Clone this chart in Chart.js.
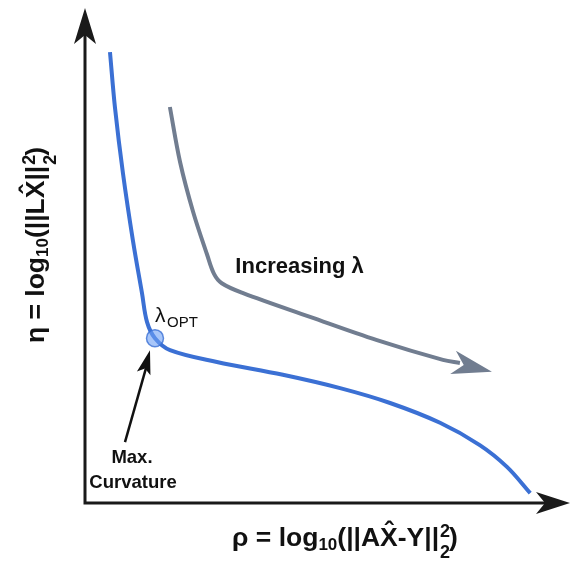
<!DOCTYPE html>
<html>
<head>
<meta charset="utf-8">
<script src="https://cdn.jsdelivr.net/npm/chart.js@4.4.1/dist/chart.umd.min.js"></script>
<style>
  html, body { margin: 0; padding: 0; background: #fff; overflow: hidden; }
  #wrap { width: 572px; height: 565px; position: relative; }
  #lcurve { display: block; }
</style>
</head>
<body>
<div id="wrap"><canvas id="lcurve"></canvas></div>
<script>
// L-curve (axes are unitless, 0..100)
const blueRho = [5.15, 6.19, 7.84, 9.90, 11.75, 12.78, 14.43, 17.53, 27.2, 40.8, 52.6, 62.9, 73.2, 81.4, 87.0, 91.8];
const blueEta = [91.1, 79.8, 66.5, 52.9, 42.4, 36.6, 33.3, 30.9, 28.5, 25.9, 23.2, 20.2, 16.2, 11.7, 7.3, 2.0];

// "increasing lambda" arrow path, tip kept apart
const grayRho = [17.5, 19.6, 22.3, 25.2, 26.6, 28.2, 32.6, 46.4, 60.2, 73.8, 77.3];
const grayEta = [80.0, 68.9, 58.8, 50.1, 46.3, 44.4, 42.4, 37.6, 32.9, 28.9, 28.3];
const grayTip = [83.9, 26.5];

// point of max curvature
const optRho = [14.43];
const optEta = [33.3];

const increasingAt = [31.0, 46];

const BLUE = '#3b70d4';
const GRAY = '#717d90';
const FONT = '"Liberation Sans", Arial, sans-serif';

const toXY = (xs, ys) => xs.map((x, i) => ({ x: x, y: ys[i] }));

function arrowHead(ctx, x0, y0, x1, y1, len, half, notch, color) {
  const a = Math.atan2(y1 - y0, x1 - x0);
  ctx.save();
  ctx.translate(x1, y1);
  ctx.rotate(a);
  ctx.beginPath();
  ctx.moveTo(0, 0);
  ctx.lineTo(-len, -half);
  ctx.lineTo(-len + notch, 0);
  ctx.lineTo(-len, half);
  ctx.closePath();
  ctx.fillStyle = color;
  ctx.fill();
  ctx.restore();
}

function setF(ctx, p) {
  ctx.font = (p.w || 'bold') + ' ' + p.s + 'px ' + FONT;
}
function partW(ctx, p) {
  setF(ctx, p);
  if (p.stack) return Math.max(ctx.measureText(p.stack[0]).width, ctx.measureText(p.stack[1]).width);
  return ctx.measureText(p.t).width;
}
// centered at cx, baseline at base
function drawRich(ctx, parts, cx, base) {
  const total = parts.reduce((a, p) => a + partW(ctx, p), 0);
  let x = cx - total / 2;
  ctx.textBaseline = 'alphabetic';
  ctx.textAlign = 'left';
  ctx.fillStyle = '#111';
  for (const p of parts) {
    const w = partW(ctx, p);
    setF(ctx, p);
    if (p.stack) {
      ctx.fillText(p.stack[0], x + 1, base + p.dy[0]);
      ctx.fillText(p.stack[1], x + 1, base + p.dy[1]);
    } else {
      ctx.fillText(p.t, x, base + (p.dy || 0));
      if (p.hat) {
        ctx.textAlign = 'center';
        ctx.fillText('\u02C6', x + w / 2, base - p.s * 0.24);
        ctx.textAlign = 'left';
      }
    }
    x += w;
  }
}

const yTitle = [
  { t: '\u03B7 = log', s: 26.5 },
  { t: '10', s: 17, dy: 4 },
  { t: '(||L', s: 26.5 },
  { t: 'X', s: 26.5, hat: true },
  { t: '||', s: 26.5 },
  { stack: ['2', '2'], s: 18, dy: [-9, 12] },
  { t: ')', s: 26.5 }
];
const xTitle = [
  { t: '\u03C1 = log', s: 26.5 },
  { t: '10', s: 17, dy: 4 },
  { t: '(||A', s: 26.5 },
  { t: 'X', s: 26.5, hat: true },
  { t: '-Y||', s: 26.5 },
  { stack: ['2', '2'], s: 18, dy: [-9, 12] },
  { t: ')', s: 26.5 }
];

const decor = {
  id: 'decor',
  beforeDatasetsDraw(chart) {
    const ctx = chart.ctx;
    const a = chart.chartArea;
    ctx.save();
    ctx.strokeStyle = '#1a1a1a';
    ctx.lineWidth = 3;
    ctx.beginPath();
    ctx.moveTo(a.left, a.bottom + 1.5);
    ctx.lineTo(a.left, a.top + 25);
    ctx.moveTo(a.left - 1.5, a.bottom);
    ctx.lineTo(a.right - 25, a.bottom);
    ctx.stroke();
    arrowHead(ctx, a.left, a.bottom, a.left, a.top, 36, 11, 9, '#1a1a1a');
    arrowHead(ctx, a.left, a.bottom, a.right, a.bottom, 34, 11, 9, '#1a1a1a');
    ctx.restore();
  },
  afterDatasetsDraw(chart) {
    const ctx = chart.ctx;
    const xs = chart.scales.x, ys = chart.scales.y;
    ctx.save();

    // gray arrowhead
    const n = grayRho.length - 1;
    arrowHead(ctx,
      xs.getPixelForValue(grayRho[n - 1]), ys.getPixelForValue(grayEta[n - 1]),
      xs.getPixelForValue(grayTip[0]), ys.getPixelForValue(grayTip[1]),
      40, 12, 11, GRAY);

    // Increasing lambda
    ctx.fillStyle = '#111';
    ctx.font = 'bold 22px ' + FONT;
    ctx.textAlign = 'left';
    ctx.textBaseline = 'alphabetic';
    ctx.fillText('Increasing \u03BB', xs.getPixelForValue(increasingAt[0]), ys.getPixelForValue(increasingAt[1]) - 2);

    // lambda_OPT
    const ox = xs.getPixelForValue(optRho[0]), oy = ys.getPixelForValue(optEta[0]);
    ctx.font = '21px ' + FONT;
    ctx.fillText('\u03BB', ox, oy - 16);
    ctx.font = '15px ' + FONT;
    ctx.fillText('OPT', ox + 12, oy - 11);

    // Max. Curvature arrow + label
    ctx.strokeStyle = '#111';
    ctx.lineWidth = 2.5;
    ctx.beginPath();
    ctx.moveTo(ox - 30, oy + 104);
    ctx.lineTo(ox - 9, oy + 30);
    ctx.stroke();
    arrowHead(ctx, ox - 30, oy + 104, ox - 5, oy + 12, 24, 7, 5, '#111');
    ctx.font = 'bold 18.5px ' + FONT;
    ctx.textAlign = 'center';
    ctx.fillText('Max.', ox - 23, oy + 125);
    ctx.fillText('Curvature', ox - 22, oy + 150);

    // axis titles
    const a = chart.chartArea;
    drawRich(ctx, xTitle, 345, a.bottom + 43);
    ctx.translate(44, 245);
    ctx.rotate(-Math.PI / 2);
    drawRich(ctx, yTitle, 0, 0);
    ctx.restore();
  }
};

new Chart(document.getElementById('lcurve'), {
  type: 'line',
  data: {
    datasets: [
      {
        data: toXY(optRho, optEta),
        showLine: false,
        pointRadius: 8.5,
        pointBackgroundColor: 'rgba(110,160,245,0.6)',
        pointBorderColor: 'rgba(59,112,212,0.8)',
        pointBorderWidth: 1.5,
        order: 0
      },
      {
        data: toXY(blueRho, blueEta),
        borderColor: BLUE,
        borderWidth: 4,
        pointRadius: 0,
        tension: 0.35,
        fill: false,
        order: 1
      },
      {
        data: toXY(grayRho, grayEta),
        borderColor: GRAY,
        borderWidth: 4,
        pointRadius: 0,
        tension: 0.35,
        fill: false,
        order: 2
      }
    ]
  },
  options: {
    responsive: true,
    maintainAspectRatio: false,
    animation: false,
    layout: { autoPadding: false, padding: { left: 85, top: 8, right: 2, bottom: 62 } },
    plugins: { legend: { display: false }, tooltip: { enabled: false } },
    scales: {
      x: { type: 'linear', min: 0, max: 100, display: false },
      y: { type: 'linear', min: 0, max: 100, display: false }
    }
  },
  plugins: [decor]
});
</script>
</body>
</html>
